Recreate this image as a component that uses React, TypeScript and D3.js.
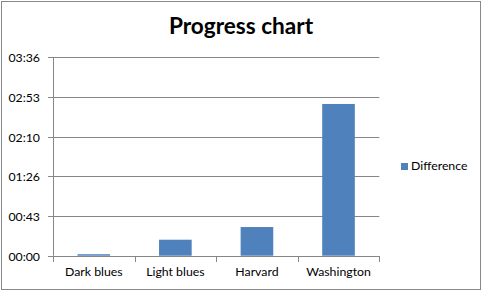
import React from "react";
import * as d3 from "d3";

const categories = ["Dark blues", "Light blues", "Harvard", "Washington"];
// values in minutes
const differenceValues = [1.6, 17.4, 31.2, 165.2];
const yTickValues = [0, 43.2, 86.4, 129.6, 172.8, 216];
const yTickLabels = ["00:00", "00:43", "01:26", "02:10", "02:53", "03:36"];
const seriesName = "Difference";
const titleText = "Progress chart";

const W = 483;
const H = 300;
const FONT = "Lato, 'Open Sans', sans-serif";
const GRID = "#868686";
const BAR = "#4F81BD";

export default function App() {
  const x = d3
    .scaleBand<string>()
    .domain(categories)
    .range([53, 379.3])
    .paddingInner(0.6)
    .paddingOuter(0.3);
  const y = d3.scaleLinear().domain([0, 216]).range([255.7, 57.3]);
  const x0 = 53;
  const x1 = 379.3;

  const catBounds = categories.map((_, i) => x0 + i * ((x1 - x0) / categories.length));
  catBounds.push(x1);

  return (
    <svg
      width={W}
      height={H}
      style={{ position: "absolute", left: 0, top: 0, background: "#fff" }}
      fontFamily={FONT}
    >
      <rect x={0} y={0} width={W} height={H} fill="#fff" />
      <rect x={1.5} y={1.5} width={479} height={288} fill="none" stroke="#888" strokeWidth={1} />
      <text x={241} y={34} textAnchor="middle" fontSize={22.6} fontWeight="bold" fill="#000">
        {titleText}
      </text>
      {yTickValues.map((v, i) => {
        const yy = Math.round(y(v)) + 0.5;
        return (
          <g key={i}>
            <line x1={x0} x2={x1} y1={yy} y2={yy} stroke={GRID} strokeWidth={1} />
            <line x1={48} x2={x0} y1={yy} y2={yy} stroke={GRID} strokeWidth={1} />
            <text x={40} y={yy + 4} textAnchor="end" fontSize={12.3} fill="#000">
              {yTickLabels[i]}
            </text>
          </g>
        );
      })}
      {categories.map((c, i) => (
        <rect
          key={c}
          x={x(c)!}
          y={y(differenceValues[i])}
          width={x.bandwidth()}
          height={y(0) - y(differenceValues[i])}
          fill={BAR}
        />
      ))}
      <line x1={Math.round(x0) + 0.5} x2={Math.round(x0) + 0.5} y1={y(216)} y2={y(0)} stroke={GRID} />
      <line x1={x0} x2={x1} y1={Math.round(y(0)) + 0.5} y2={Math.round(y(0)) + 0.5} stroke={GRID} />
      {catBounds.map((b, i) => (
        <line
          key={i}
          x1={Math.round(b) + 0.5}
          x2={Math.round(b) + 0.5}
          y1={Math.round(y(0))}
          y2={Math.round(y(0)) + 6}
          stroke={GRID}
        />
      ))}
      {categories.map((c) => (
        <text
          key={c}
          x={(x(c) ?? 0) + x.bandwidth() / 2}
          y={276}
          textAnchor="middle"
          fontSize={12.3}
          fill="#000"
        >
          {c}
        </text>
      ))}
      <rect x={401} y={163} width={7} height={7} fill={BAR} />
      <text x={411} y={170} fontSize={12.3} fill="#000">
        {seriesName}
      </text>
    </svg>
  );
}
